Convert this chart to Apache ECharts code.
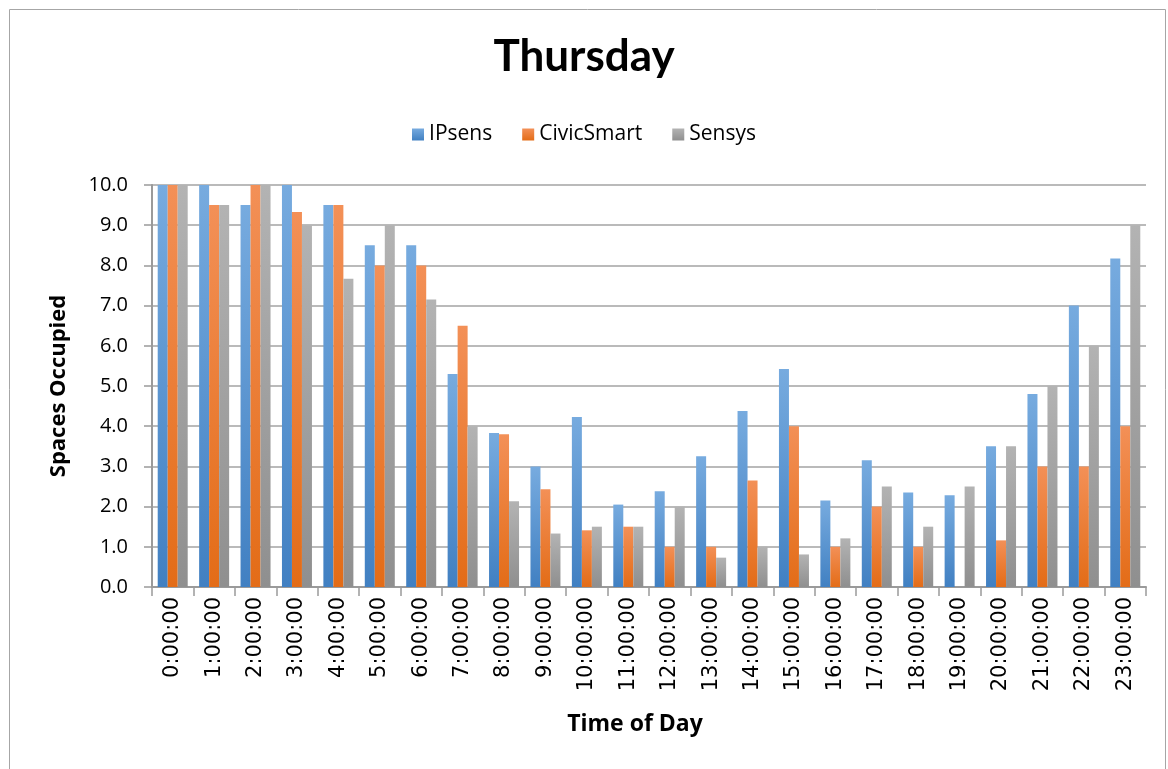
<!DOCTYPE html>
<html>
<head>
<meta charset="utf-8">
<script src="https://cdn.jsdelivr.net/npm/echarts@6/dist/echarts.min.js"></script>
<style>
  html, body { margin: 0; padding: 0; background: #fff; }
  #chart { width: 1168px; height: 769px; }
</style>
</head>
<body>
<div id="chart"></div>
<script>
// categories (hours of the day)
const hours = ['0:00:00', '1:00:00', '2:00:00', '3:00:00', '4:00:00', '5:00:00', '6:00:00', '7:00:00',
  '8:00:00', '9:00:00', '10:00:00', '11:00:00', '12:00:00', '13:00:00', '14:00:00', '15:00:00',
  '16:00:00', '17:00:00', '18:00:00', '19:00:00', '20:00:00', '21:00:00', '22:00:00', '23:00:00']

// series values
const ipsens = [10, 10, 9.5, 10, 9.5, 8.5, 8.5, 5.3, 3.83, 3.0, 4.23, 2.05,
  2.38, 3.25, 4.38, 5.42, 2.15, 3.15, 2.35, 2.28, 3.5, 4.8, 7.0, 8.17]
const civicSmart = [10, 9.5, 10, 9.33, 9.5, 8.0, 8.0, 6.5, 3.8, 2.43, 1.41, 1.5,
  1.0, 1.0, 2.65, 4.0, 1.0, 2.0, 1.0, 0, 1.16, 3.0, 3.0, 4.0]
const sensys = [10, 9.5, 10, 9.0, 7.67, 9.0, 7.15, 4.0, 2.13, 1.33, 1.5, 1.5,
  2.0, 0.73, 1.0, 0.81, 1.21, 2.5, 1.5, 2.5, 3.5, 5.0, 6.0, 9.0]

const font = '"Open Sans", Lato, sans-serif'

// vertical gradient like the Excel bar fill
const grad = (top, bottom) => new echarts.graphic.LinearGradient(0, 0, 0, 1, [
  { offset: 0, color: top },
  { offset: 1, color: bottom }
])

const makeSeries = (name, data, top, bottom) => ({
  name: name,
  type: 'bar',
  data: data,
  barWidth: 10,
  barGap: '0%',
  itemStyle: { color: grad(top, bottom) }
})

const chart = echarts.init(document.getElementById('chart'))
chart.setOption({
  animation: false,
  textStyle: { fontFamily: font },
  graphic: [
    {
      type: 'rect',
      shape: { x: 9.5, y: 9.5, width: 1156, height: 800 },
      style: { fill: 'none', stroke: '#a6a6a6', lineWidth: 1 },
      silent: true
    }
  ],
  title: {
    text: 'Thursday',
    left: 'center',
    top: 30,
    padding: [5, 0, 5, 14],
    textStyle: { fontSize: 44, fontWeight: 'bold', color: '#000', fontFamily: 'Lato, sans-serif' }
  },
  legend: {
    top: 119,
    left: 'center',
    icon: 'rect',
    itemWidth: 12,
    itemHeight: 12,
    itemGap: 30,
    textStyle: { fontSize: 21, color: '#000', fontFamily: font },
    data: ['IPsens', 'CivicSmart', 'Sensys']
  },
  grid: {
    left: 152,
    right: 22,
    top: 185,
    bottom: 182
  },
  xAxis: {
    type: 'category',
    data: hours,
    name: 'Time of Day',
    nameLocation: 'middle',
    nameGap: 126,
    nameTextStyle: { fontSize: 23, fontWeight: 'bold', color: '#000', fontFamily: font, padding: [0, 28, 0, 0] },
    axisLine: { lineStyle: { color: '#9a9a9a', width: 2 } },
    axisTick: { show: true, alignWithLabel: false, length: 9, lineStyle: { color: '#9a9a9a', width: 1.5 } },
    axisLabel: { rotate: 90, fontSize: 21, color: '#000', margin: 10, interval: 0, fontFamily: '"DejaVu Sans", sans-serif' }
  },
  yAxis: {
    type: 'value',
    min: 0,
    max: 10,
    interval: 1,
    name: 'Spaces Occupied',
    nameLocation: 'middle',
    nameGap: 82,
    nameTextStyle: { fontSize: 22, fontWeight: 'bold', color: '#000', fontFamily: font },
    axisLine: { show: true, lineStyle: { color: '#9a9a9a', width: 2 } },
    axisTick: { show: true, length: 8, lineStyle: { color: '#9a9a9a', width: 1.5 } },
    axisLabel: { fontSize: 20, color: '#000', margin: 24, formatter: (v) => v.toFixed(1), fontFamily: font },
    splitLine: { lineStyle: { color: '#a3a3a3', width: 1.5 } }
  },
  series: [
    makeSeries('IPsens', ipsens, '#77abdf', '#4180c2'),
    makeSeries('CivicSmart', civicSmart, '#f39057', '#e36c17'),
    makeSeries('Sensys', sensys, '#b3b3b3', '#8f8f8f')
  ]
})
</script>
</body>
</html>
